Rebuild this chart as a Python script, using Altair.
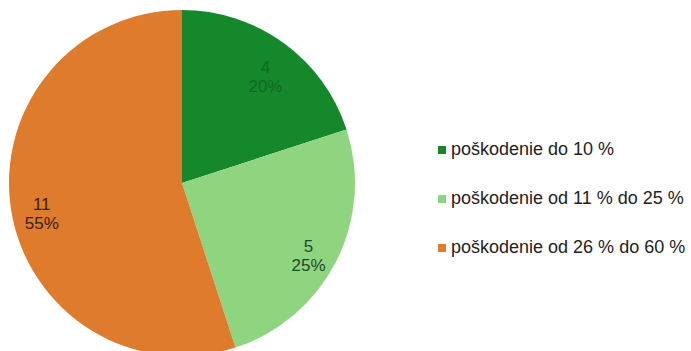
import altair as alt
import pandas as pd

categories = ["poškodenie do 10 %", "poškodenie od 11 % do 25 %", "poškodenie od 26 % do 60 %"]
counts = [4, 5, 11]
percents = ["20%", "25%", "55%"]
slice_colors = ["#16882c", "#8fd57f", "#de7b2c"]
text_colors = ["#0e6a20", "#1b4a2a", "#3a200c"]

df = pd.DataFrame({
    "cat": categories,
    "value": counts,
    "order": list(range(len(categories))),
    "label": [f"{c}\n{p}" for c, p in zip(counts, percents)],
    "tcolor": text_colors,
})

base = alt.Chart(df).encode(
    theta=alt.Theta("value:Q", stack=True),
    order=alt.Order("order:Q"),
)

pie = base.mark_arc(outerRadius=173, stroke=None).encode(
    x=alt.value(182),
    y=alt.value(183),
    color=alt.Color(
        "cat:N",
        sort=categories,
        scale=alt.Scale(domain=categories, range=slice_colors),
        legend=alt.Legend(
            title=None,
            orient="none",
            legendX=433,
            legendY=141,
            symbolType="square",
            symbolSize=64,
            symbolStrokeWidth=0,
            labelFontSize=18,
            labelFont="Liberation Sans",
            labelColor="#222222",
            labelOffset=0,
            rowPadding=31,
            padding=0,
            labelLimit=400,
        ),
    ),
)

labels = base.mark_text(
    radius=142,
    fontSize=17,
    font="Liberation Sans",
    lineBreak="\n",
    lineHeight=19,
    align="center",
    baseline="middle",
).encode(
    x=alt.value(182),
    y=alt.value(183),
    text="label:N",
    color=alt.Color("tcolor:N", scale=None, legend=None),
)

chart = alt.layer(pie, labels).resolve_scale(color="independent").properties(
    width=691,
    height=351,
    autosize=alt.AutoSizeParams(type="none"),
    padding=0,
    background="white",
).configure_view(stroke=None)

chart.save("out.html", embed_options={"renderer": "svg", "actions": False})
